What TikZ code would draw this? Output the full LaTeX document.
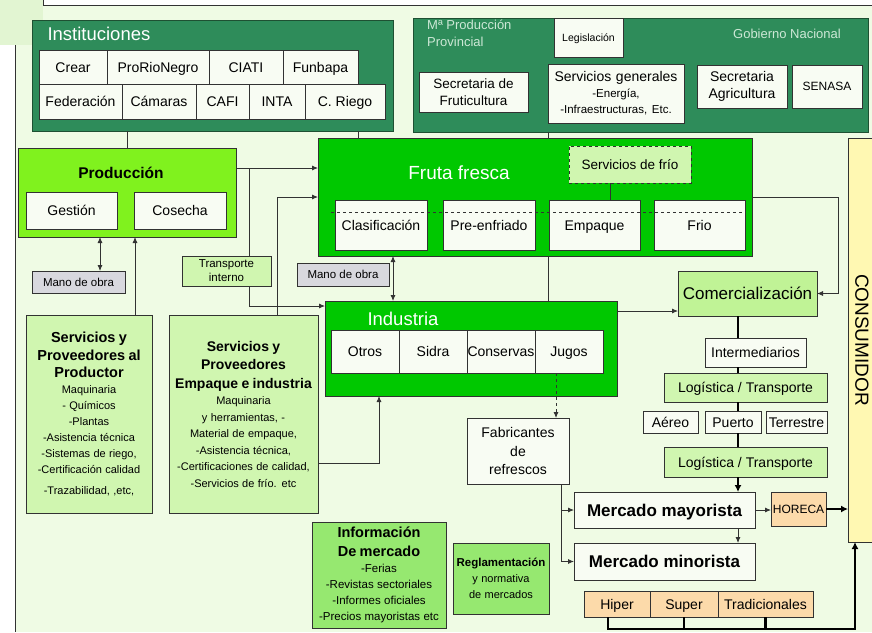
\documentclass[tikz,border=0pt]{standalone}
\usepackage{fontspec}
\setmainfont{Liberation Sans}
\usetikzlibrary{arrows.meta}
\definecolor{bgpale}{RGB}{239,251,228}
\definecolor{cornerc}{RGB}{226,245,210}
\definecolor{dkgreen}{RGB}{46,140,90}
\definecolor{dkedge}{RGB}{30,80,50}
\definecolor{brgreen}{RGB}{0,200,0}
\definecolor{limeg}{RGB}{128,242,30}
\definecolor{lgreen}{RGB}{208,246,176}
\definecolor{cgreen}{RGB}{192,243,150}
\definecolor{mgreen}{RGB}{150,232,112}
\definecolor{whiteb}{RGB}{248,252,243}
\definecolor{grayb}{RGB}{216,216,222}
\definecolor{orangeb}{RGB}{252,218,170}
\definecolor{yellowb}{RGB}{255,248,178}
\definecolor{linec}{RGB}{50,50,50}
\definecolor{paletext}{RGB}{205,232,214}
\newcommand\fs[2]{\fontsize{#1}{#2}\selectfont}
\newcommand\bx[7][]{%
  \pgfmathsetmacro\bxw{#5-#3}%
  \pgfmathsetmacro\bxh{#6-#4}%
  \pgfmathsetmacro\bxcx{(#3+#5)/2}%
  \pgfmathsetmacro\bxcy{(#4+#6)/2}%
  \node[#1, minimum width=\bxw pt, minimum height=\bxh pt, anchor=center] (#2) at (\bxcx,\bxcy) {#7};}
\begin{document}
\begin{tikzpicture}[x=1pt,y=-1pt,
 box/.style={draw=linec, line width=0.8pt, inner sep=0pt, outer sep=0pt, align=center},
 one/.style={text height=#1, text depth=0pt},
 wboxm/.style={box, fill=whiteb, font=\fs{14}{17}},
 wbox/.style={wboxm, one=10pt},
 gbox/.style={box, fill=grayb, font=\fs{11.5}{14}, one=8.3pt},
 lbox/.style={box, fill=lgreen},
 obox/.style={box, fill=orangeb, font=\fs{14}{17}, one=10pt},
 ln/.style={draw=linec, line width=0.8pt},
 arr/.style={ln, -{Latex[length=6pt,width=5pt]}},
 darr/.style={ln, {Latex[length=6pt,width=5pt]}-{Latex[length=6pt,width=5pt]}},
 thk/.style={draw=black, line width=2.2pt},
 tarr/.style={thk, -{Latex[length=7pt,width=7pt]}},
]
\useasboundingbox (0,0) rectangle (872,632);
% background
\fill[white] (0,0) rectangle (872,632);
\fill[bgpale] (15,5) rectangle (872,632);
\fill[cornerc] (0,0) rectangle (43,45);
\draw[linec, line width=0.8pt] (43,0) -- (43,5) -- (872,5);
\draw[linec, line width=0.8pt] (15,45) -- (15,632);

% Instituciones
\bx[box, fill=dkgreen, draw=dkedge]{inst}{32}{20}{393}{131}{}
\node[anchor=west, text=white, font=\fs{18.5}{22}] (instT) at (44,34) {Instituciones};
\bx[wbox]{crear}{39}{50}{107}{84}{Crear}
\bx[wbox]{prorio}{107}{50}{209}{84}{ProRioNegro}
\bx[wbox]{ciati}{209}{50}{283}{84}{CIATI}
\bx[wbox]{funb}{283}{50}{358}{84}{Funbapa}
\bx[wbox]{feder}{39}{84}{122}{119}{Federación}
\bx[wbox]{camar}{122}{84}{196}{119}{Cámaras}
\bx[wbox]{cafi}{196}{84}{249}{119}{CAFI}
\bx[wbox]{inta}{249}{84}{305}{119}{INTA}
\bx[wbox]{criego}{305}{84}{385}{119}{C. Riego}

% Gobierno
\bx[box, fill=dkgreen, draw=dkedge]{gob}{413}{18}{868}{132}{}
\node[anchor=north west, align=left, text=paletext, font=\fs{13}{17}, inner sep=0pt] (mprod) at (427,20) {Mª Producción\\Provincial};
\bx[wbox, font=\fs{10.5}{13}, one=7.6pt]{legis}{554}{18}{623}{57}{Legislación}
\node[text=paletext, font=\fs{13}{16}] (gobT) at (787,34) {Gobierno Nacional};
\bx[wboxm, font=\fs{13.5}{17}]{secfrut}{419}{72}{528}{112}{Secretaria de\\Fruticultura}
\bx[wboxm, text width=132pt]{servgen}{548}{64}{684}{123}{{\fs{14}{16}Servicios generales\par}{\fs{11.5}{16}-Energía,\\-Infraestructuras, Etc.\par}}
\bx[wboxm]{secagr}{697}{65}{787}{108}{Secretaria\\Agricultura}
\bx[wbox, font=\fs{12}{14}, one=8.6pt]{senasa}{792}{65}{862}{108}{SENASA}

% Produccion
\bx[box, fill=limeg]{prod}{18}{148}{236}{237}{}
\node[font=\fs{15.5}{18}\bfseries] (prodT) at (121,173) {Producción};
\bx[wbox]{gestion}{26}{192}{117}{229}{Gestión}
\bx[wbox]{cosecha}{134}{192}{226}{229}{Cosecha}
\bx[gbox]{mano1}{32}{271}{125}{293}{Mano de obra}
\bx[gbox]{mano2}{297}{263}{389}{286}{Mano de obra}

% Fruta fresca
\bx[box, fill=brgreen]{fruta}{318}{138}{752}{256}{}
\node[text=white, font=\fs{19}{22}] (frutaT) at (459,173) {Fruta fresca};
\bx[box, fill=lgreen, dashed, font=\fs{13.5}{16}, one=9.7pt]{sfrio}{569}{146}{691}{183}{Servicios de frío}
\bx[wbox]{clasif}{335}{200}{427}{250}{Clasificación}
\bx[wbox]{preenf}{443}{200}{535}{250}{Pre-enfriado}
\bx[wbox]{empq}{549}{200}{640}{250}{Empaque}
\bx[wbox]{frio}{654}{200}{745}{250}{Frio}
\coordinate (dlA) at (331,212);
\coordinate (dlB) at (745,212);
\draw[ln, dashed] (dlA) -- (dlB);

% Industria
\bx[box, fill=brgreen]{ind}{325}{301}{617}{396}{}
\node[text=white, font=\fs{18.5}{22}] (indT) at (403,319) {Industria};
\bx[wbox]{otros}{331}{330}{399}{373}{Otros}
\bx[wbox]{sidra}{399}{330}{467}{373}{Sidra}
\bx[wbox]{conserv}{467}{330}{535}{373}{Conservas}
\bx[wbox]{jugos}{535}{330}{603}{373}{Jugos}
\bx[wboxm, font=\fs{14}{18.5}]{fabr}{467}{418}{569}{484}{Fabricantes\\de\\refrescos}

% Right column
\bx[box, fill=cgreen, font=\fs{17}{20}, one=12.2pt]{comerc}{678}{271}{817}{316}{Comercialización}
\bx[wbox]{interm}{705}{338}{806}{367}{Intermediarios}
\bx[lbox, font=\fs{14}{17}, one=10pt]{log1}{664}{373}{827}{402}{Logística / Transporte}
\bx[wbox]{aereo}{643}{411}{698}{433}{Aéreo}
\bx[wbox]{puerto}{705}{411}{761}{433}{Puerto}
\bx[wbox]{terr}{766}{411}{827}{433}{Terrestre}
\bx[lbox, font=\fs{14}{17}, one=10pt]{log2}{664}{447}{827}{477}{Logística / Transporte}
\bx[wbox, font=\fs{17}{20}\bfseries, one=12.2pt]{mmay}{574}{492}{755}{528}{Mercado mayorista}
\bx[wbox, font=\fs{17}{20}\bfseries, one=12.2pt]{mmin}{574}{543}{755}{580}{Mercado minorista}
\bx[obox, font=\fs{12}{14}, one=8.6pt]{horeca}{771}{492}{826}{526}{HORECA}
\bx[obox]{hiper}{584}{591}{650}{617}{Hiper}
\bx[obox]{super}{650}{591}{718}{617}{Super}
\bx[obox]{trad}{718}{591}{813}{617}{Tradicionales}
\bx[box, fill=yellowb]{cons}{848}{138}{880}{542}{}
\node[rotate=-90, font=\fs{19}{22}] (consT) at (862,340) {CONSUMIDOR};

% Left boxes
\bx[lbox, text width=122pt]{sprod}{26}{315}{152}{513}{{\fs{14.5}{17.5}\bfseries Servicios y\\Proveedores al\\Productor\par}{\fs{11}{16}Maquinaria\\- Químicos\\-Plantas\\-Asistencia técnica\\-Sistemas de riego,\\-Certificación calidad\\[5pt]-Trazabilidad, ,etc,\par}}
\bx[lbox, text width=147pt]{sempq}{169}{315}{318}{513}{{\fs{14}{18.5}\bfseries Servicios y\\Proveedores\\Empaque e industria\par}{\fs{11}{16.5}Maquinaria\\y herramientas, -\\Material de empaque,\\-Asistencia técnica,\\-Certificaciones de calidad,\\-Servicios de frío. etc\par}}
\bx[box, fill=mgreen, text width=132pt]{info}{312}{522}{446}{628}{{\fs{14.5}{19}\bfseries Información\\De mercado\par}{\fs{11.5}{16}-Ferias\\-Revistas sectoriales\\-Informes oficiales\\-Precios mayoristas etc\par}}
\bx[box, fill=mgreen, text width=94pt]{regl}{453}{543}{549}{614}{{\fs{11.5}{16}\bfseries Reglamentación\par}{\fs{11}{16}y normativa\\de mercados\par}}

% helper coordinates
\coordinate (cx100) at (100,0);
\coordinate (cx127) at (127,0);
\coordinate (cx135) at (135,0);
\coordinate (cx277) at (277,0);
\coordinate (cx358) at (358,0);
\coordinate (cx379) at (379,0);
\coordinate (cx393) at (393,0);
\coordinate (cx548) at (548,0);
\coordinate (cx556) at (556,0);
\coordinate (cx561) at (561,0);
\coordinate (cx608) at (608,0);
\coordinate (cx610) at (610,0);
\coordinate (cx738) at (738,0);
\coordinate (cx855) at (855,0);
\coordinate (cy168) at (0,168);
\coordinate (cy197) at (0,197);
\coordinate (cy306) at (0,306);
\coordinate (cy311) at (0,311);
\coordinate (cy463) at (0,463);
\coordinate (cy629) at (0,629);
\coordinate (jA) at (249,168);
\coordinate (cR) at (838,293.5);
\coordinate (cBot) at (855,629);

% connectors
\draw[ln] (inst.south -| cx127) -- (prod.north -| cx127);
\draw[ln] (inst.south -| cx358) -- (fruta.north -| cx358);
\draw[ln] (gob.south -| cx548) -- (fruta.north -| cx548);
\draw[arr] (prod.east |- cy168) -- (fruta.west |- cy168);
\draw[arr] (jA) |- (ind.west |- cy306);
\draw[arr] (sempq.north -| cx277) |- (fruta.west |- cy197);
\draw[darr] (prod.south -| cx100) -- (mano1.north -| cx100);
\draw[arr] (sprod.north -| cx135) -- (prod.south -| cx135);
\draw[darr] (fruta.south -| cx393) -- (ind.north -| cx393);
\draw[ln] (fruta.south -| cx548) -- (ind.north -| cx548);
\draw[ln] (sfrio.south -| cx610) -- (empq.north -| cx610);
\draw[arr] (fruta.east |- cy197) -| (cR) -- (comerc.east);
\draw[arr] (ind.east |- cy311) -- (comerc.west |- cy311);
\draw[arr] (sempq.east |- cy463) -| (ind.south -| cx379);
\draw[arr, dashed] (jugos.south -| cx556) -- (fabr.north -| cx556);
\draw[thk] (comerc.south -| cx738) -- (interm.north -| cx738);
\draw[thk] (interm.south -| cx738) -- (log1.north -| cx738);
\draw[thk] (log1.south -| cx738) -- (puerto.north -| cx738);
\draw[thk] (puerto.south -| cx738) -- (log2.north -| cx738);
\draw[tarr] (log2.south -| cx738) -- (mmay.north -| cx738);
\draw[arr] (fabr.south -| cx561) |- (mmin.west);
\draw[arr] (cx561 |- mmay.west) -- (mmay.west);
\draw[arr] (mmay.south -| cx738) -- (mmin.north -| cx738);
\draw[arr] (mmay.east) -- (horeca.west |- mmay.east);
\draw[tarr] (horeca.east) -- (cons.west |- horeca.east);
\draw[thk] (super.south) -- (super.south |- cy629);
\draw[thk] (trad.south) -- (trad.south |- cy629);
\draw[tarr] (hiper.south -| cx608) |- (cBot) -- (cons.south -| cx855);

% box drawn over the branch line
\bx[lbox, font=\fs{11.5}{14}]{transp}{182}{256}{271}{286}{Transporte\\interno}
\end{tikzpicture}
\end{document}
